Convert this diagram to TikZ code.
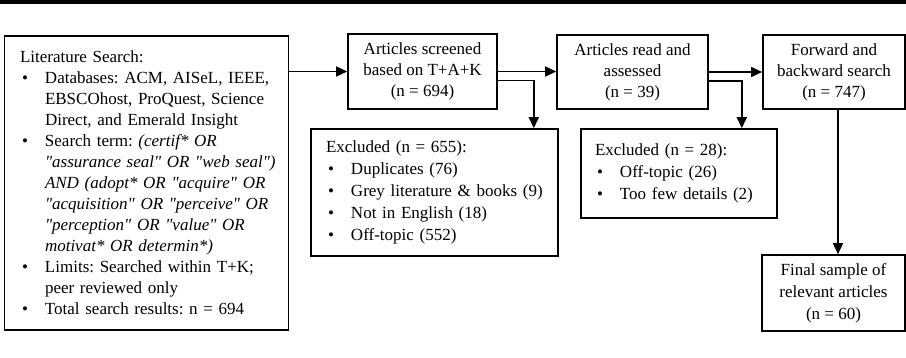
\documentclass[tikz,border=0pt]{standalone}
\usepackage{fontspec}
\setmainfont{Liberation Serif}[Ligatures=TeXOff]
\usetikzlibrary{arrows.meta}
\frenchspacing
\newcommand{\myb}[1]{\makebox[25pt][l]{\hspace{2pt}\textbullet}\mbox{#1}}
\newcommand{\myc}[1]{\makebox[25pt]{}\mbox{#1}}
\begin{document}
\begin{tikzpicture}[x=1pt,y=-1pt,
  box/.style={draw, line width=1.6pt, inner sep=0pt, font=\fontsize{17}{21}\selectfont\frenchspacing, align=center},
  listbox/.style={box, align=left},
  arr/.style={line width=1.5pt, -{Triangle[length=11pt,width=10pt]}}]
\useasboundingbox (0,0) rectangle (906,358);
\draw[line width=3.5pt] (0,2) -- (906,2);

\node[listbox, inner xsep=15.5pt, text width=253pt, minimum height=294pt] (lit) at (146.5,183)
 {Literature Search:\\
  \myb{Databases: ACM, AISeL, IEEE,}\\
  \myc{EBSCOhost, ProQuest, Science}\\
  \myc{Direct, and Emerald Insight}\\
  \myb{Search term: \textit{(certif* OR}}\\
  \myc{\textit{"assurance seal" OR "web seal")}}\\
  \myc{\textit{AND (adopt* OR "acquire" OR}}\\
  \myc{\textit{"acquisition" OR "perceive" OR}}\\
  \myc{\textit{"perception" OR "value" OR}}\\
  \myc{\textit{motivat* OR determin*)}}\\
  \myb{Limits: Searched within T+K;}\\
  \myc{peer reviewed only}\\
  \myb{Total search results: n = 694}};

\node[box, minimum width=149pt, minimum height=75pt] (scr) at (422.5,71.5)
 {Articles screened\\based on T+A+K\\(n = 694)};
\node[box, minimum width=151pt, minimum height=74pt] (read) at (632.5,72)
 {Articles read and\\assessed\\(n = 39)};
\node[box, minimum width=142pt, minimum height=74pt] (fwd) at (834,72)
 {Forward and\\backward search\\(n = 747)};

\node[listbox, font=\fontsize{17}{22}\selectfont\frenchspacing, inner xsep=15pt, text width=217pt, minimum height=127pt] (ex1) at (434.5,192.5)
 {Excluded (n = 655):\\
  \myb{Duplicates (76)}\\
  \myb{Grey literature \& books (9)}\\
  \myb{Not in English (18)}\\
  \myb{Off-topic (552)}};

\node[listbox, font=\fontsize{17}{22}\selectfont\frenchspacing, inner xsep=14pt, text width=168pt, minimum height=89pt] (ex2) at (679,173.5)
 {Excluded (n = 28):\\
  \myb{Off-topic (26)}\\
  \myb{Too few details (2)}};

\node[box, font=\fontsize{17}{22}\selectfont\frenchspacing, minimum width=143pt, minimum height=76pt] (fin) at (833.5,293)
 {Final sample of\\relevant articles\\(n = 60)};

\draw[arr] (lit.east |- scr.west) -- (scr.west);
\draw[arr] (scr.east) -- (read.west |- scr.east);
\draw[arr] (read.east) -- (fwd.west);
\draw[arr] ([yshift=-9pt]scr.east) -| ([xshift=-25pt]ex1.north east);
\draw[arr] ([yshift=-9pt]read.east) -| ([xshift=-36pt]ex2.north east);
\draw[arr] ([xshift=4pt]fwd.south) -- ([xshift=4pt]fwd.south |- fin.north);
\end{tikzpicture}
\end{document}
